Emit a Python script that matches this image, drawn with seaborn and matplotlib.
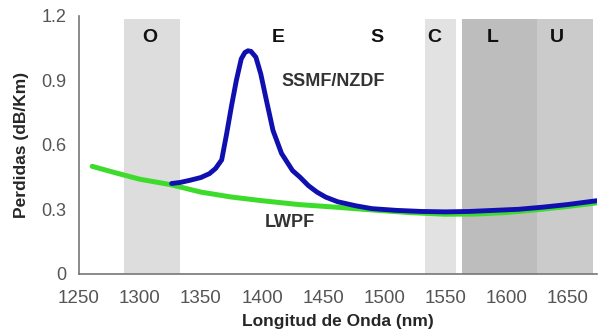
import pandas as pd
import matplotlib.pyplot as plt
import seaborn as sns

sns.set_style("white")
plt.rcParams["font.family"] = ["Liberation Sans", "DejaVu Sans"]

# SSMF/NZDF attenuation (blue)
ssmf_nm = [1326, 1333, 1341, 1350, 1357, 1362, 1367, 1371, 1375, 1379, 1383, 1386,
           1388.5, 1391, 1395, 1399, 1403.5, 1409, 1416, 1425, 1431, 1438, 1445,
           1452, 1462, 1477, 1490, 1510, 1530, 1550, 1570, 1590, 1610, 1630, 1650, 1674]
ssmf_db = [0.42, 0.425, 0.435, 0.448, 0.466, 0.49, 0.53, 0.65, 0.78, 0.90, 1.00, 1.03,
           1.038, 1.035, 1.008, 0.93, 0.81, 0.667, 0.56, 0.48, 0.45, 0.41, 0.38,
           0.357, 0.335, 0.316, 0.303, 0.295, 0.29, 0.288, 0.29, 0.295, 0.30, 0.31, 0.322, 0.34]

# LWPF attenuation (green)
lwpf_nm = [1261, 1280, 1300, 1325, 1350, 1375, 1400, 1430, 1460, 1490, 1520, 1550,
           1575, 1600, 1625, 1650, 1674]
lwpf_db = [0.50, 0.47, 0.44, 0.415, 0.38, 0.357, 0.34, 0.322, 0.31, 0.297, 0.285,
           0.277, 0.278, 0.285, 0.298, 0.313, 0.33]

# transmission bands
band_names = ["O", "E", "S", "C", "L", "U"]
band_label_x = [1308, 1413, 1494, 1541, 1589, 1641]
shaded = [(1287, 1333, "#dddddd"), (1533, 1559, "#e2e2e2"),
          (1564, 1625, "#bdbdbd"), (1625, 1671, "#cbcbcb")]

df_ssmf = pd.DataFrame({"nm": ssmf_nm, "db": ssmf_db})
df_lwpf = pd.DataFrame({"nm": lwpf_nm, "db": lwpf_db})

fig, ax = plt.subplots(figsize=(6.01, 3.33), dpi=100)
fig.subplots_adjust(left=0.131, right=0.993, bottom=0.178, top=0.952)

for x0, x1, c in shaded:
    ax.axvspan(x0, x1, ymin=0, ymax=0.99, color=c, lw=0, zorder=0)

sns.lineplot(data=df_lwpf, x="nm", y="db", ax=ax, color="#3ddc2c", lw=3.6,
             estimator=None, zorder=3)
sns.lineplot(data=df_ssmf, x="nm", y="db", ax=ax, color="#1010b0", lw=3.5,
             estimator=None, zorder=4)

for name, x in zip(band_names, band_label_x):
    ax.text(x, 1.10, name, ha="center", va="center", fontsize=14,
            fontweight="bold", color="#111111")

ax.text(1458, 0.895, "SSMF/NZDF", ha="center", va="center", fontsize=13,
        fontweight="bold", color="#333333")
ax.text(1423, 0.24, "LWPF", ha="center", va="center", fontsize=13,
        fontweight="bold", color="#333333")

ax.set_xlim(1250, 1674)
ax.set_ylim(0, 1.2)
ax.set_xticks(range(1250, 1651, 50))
ax.set_yticks([0, 0.3, 0.6, 0.9, 1.2])
ax.set_yticklabels(["0", "0.3", "0.6", "0.9", "1.2"])
ax.set_xlabel("Longitud de Onda (nm)", fontsize=12.5, fontweight="bold", labelpad=5)
ax.set_ylabel("Perdidas (dB/Km)", fontsize=12.5, fontweight="bold", labelpad=9)
ax.tick_params(axis="x", labelsize=13.5, colors="#666666", length=3, width=1,
               labelcolor="#555555", pad=9)
ax.tick_params(axis="y", labelsize=13, colors="#666666", length=3, width=1,
               labelcolor="#555555", pad=6)
sns.despine(ax=ax)
for s in ["left", "bottom"]:
    ax.spines[s].set_color("#777777")
    ax.spines[s].set_linewidth(1.2)

fig.savefig("out.png", dpi=100)
